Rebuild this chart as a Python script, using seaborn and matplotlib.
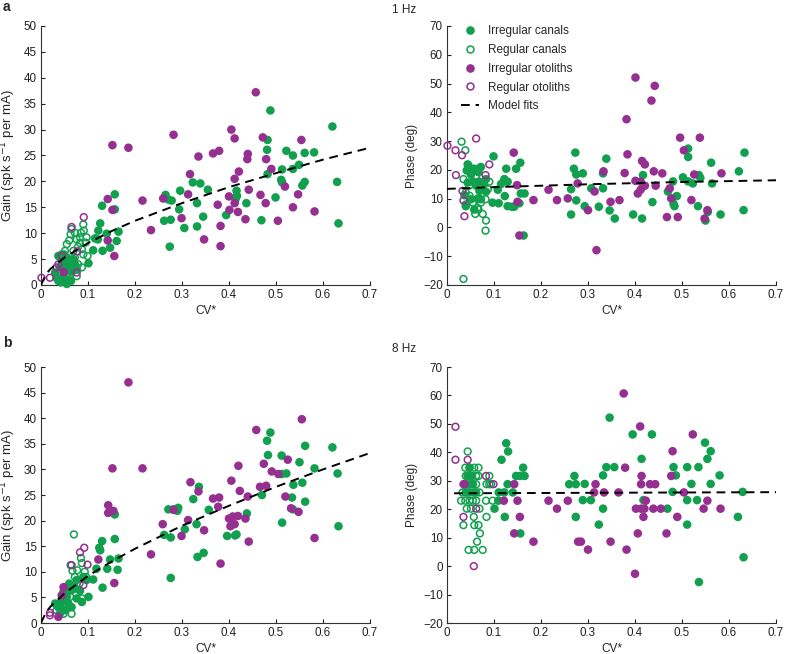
import numpy as np
import pandas as pd
import matplotlib
matplotlib.use("Agg")
import matplotlib.pyplot as plt
import seaborn as sns
from matplotlib.lines import Line2D

# ---------------- data ----------------
# panel a, gain (1 Hz)
g1_irr_can_cv = [0.157, 0.157, 0.130, 0.126, 0.122, 0.140, 0.165, 0.161, 0.147, 0.131, 0.111, 0.115, 0.121, 0.101,
                 0.037, 0.048, 0.058, 0.065, 0.072, 0.069, 0.055, 0.044, 0.033, 0.062, 0.051, 0.040, 0.049, 0.058, 0.030,
                 0.076, 0.042, 0.055, 0.037, 0.046,
                 0.265, 0.271, 0.278, 0.262, 0.276, 0.274, 0.294, 0.296, 0.305, 0.323, 0.339, 0.332, 0.332,
                 0.488, 0.620, 0.482, 0.481, 0.522, 0.536, 0.561, 0.581, 0.549, 0.536, 0.513, 0.482, 0.511, 0.513,
                 0.561, 0.556, 0.630, 0.355, 0.416, 0.417, 0.414, 0.437, 0.499, 0.345, 0.394, 0.469, 0.633]
g1_irr_can = [17.5, 14.6, 15.3, 11.9, 10.5, 9.9, 10.3, 8.5, 7.2, 6.6, 6.7, 9.0, 8.8, 4.2,
              0.8, 2.1, 3.0, 2.7, 4.0, 5.0, 5.3, 4.6, 1.4, 0.8, 1.1, 3.4, 5.9, 4.0, 2.4,
              3.0, 0.5, 0.2, 5.6, 3.4,
              17.4, 16.5, 16.3, 12.4, 12.6, 7.4, 14.6, 18.2, 11.0, 19.8, 19.6, 15.8, 11.3,
              33.7, 30.6, 28.0, 26.1, 25.9, 25.0, 25.5, 25.6, 23.2, 22.4, 22.3, 21.4, 20.3, 19.8,
              19.9, 19.2, 19.9, 18.4, 18.2, 17.2, 16.6, 15.8, 16.9, 13.2, 13.5, 12.5, 11.9]
g1_reg_can_cv = [0.065, 0.063, 0.076, 0.083, 0.069, 0.087, 0.090, 0.099, 0.079, 0.087, 0.065, 0.055, 0.064, 0.076,
                 0.085, 0.090, 0.091, 0.097, 0.095, 0.079, 0.072, 0.058, 0.051, 0.072, 0.060, 0.055, 0.044, 0.083]
g1_reg_can = [10.8, 9.8, 8.8, 8.1, 6.6, 6.9, 5.9, 5.6, 4.0, 3.4, 2.4, 1.1, 0.8, 1.7,
              10.1, 11.7, 10.5, 9.2, 8.2, 7.4, 5.3, 3.4, 6.6, 10.1, 8.6, 7.9, 5.9, 9.2]
g1_irr_oto_cv = [0.152, 0.186, 0.282, 0.216, 0.142, 0.152, 0.234, 0.142, 0.156, 0.260, 0.299, 0.313, 0.317, 0.335,
                 0.457, 0.405, 0.412, 0.472, 0.554, 0.366, 0.379, 0.440, 0.439, 0.479, 0.490, 0.421, 0.412, 0.442,
                 0.400, 0.412, 0.376, 0.467, 0.478, 0.519, 0.547, 0.401, 0.419, 0.435, 0.536, 0.582, 0.504, 0.382,
                 0.347, 0.382, 0.048]
g1_irr_oto = [27.0, 26.5, 29.0, 16.3, 16.6, 14.5, 10.6, 8.6, 5.6, 16.7, 12.9, 17.5, 21.4, 24.8,
              37.2, 30.0, 28.3, 28.5, 28.0, 25.4, 25.9, 25.3, 24.3, 24.3, 22.4, 21.9, 20.5, 18.4,
              17.1, 15.8, 15.5, 17.4, 15.8, 19.0, 17.5, 14.5, 14.1, 12.7, 15.0, 14.2, 12.4, 11.4,
              8.8, 7.5, 2.5]
g1_reg_oto_cv = [0.091, 0.065, 0.001, 0.019, 0.044, 0.037, 0.076, 0.077, 0.033]
g1_reg_oto = [13.1, 11.2, 1.4, 1.4, 5.6, 4.0, 2.4, 6.5, 3.4]

# panel a, phase (1 Hz)
p1_irr_can_cv = [0.099, 0.126, 0.156, 0.147, 0.122, 0.129, 0.115, 0.108, 0.097, 0.110, 0.123, 0.129, 0.138, 0.143,
                 0.157, 0.165, 0.154, 0.163, 0.273, 0.270, 0.275, 0.264, 0.264, 0.275,
                 0.044, 0.042, 0.051, 0.044, 0.055, 0.062, 0.069, 0.069, 0.065, 0.051, 0.040, 0.058, 0.072, 0.072,
                 0.083, 0.079, 0.083, 0.067, 0.058, 0.037,
                 0.513, 0.513, 0.633, 0.562, 0.339, 0.289, 0.332, 0.417, 0.502, 0.536, 0.539, 0.621, 0.481, 0.513,
                 0.523, 0.564, 0.307, 0.332, 0.470, 0.489, 0.482, 0.484, 0.437, 0.293, 0.323, 0.346, 0.357, 0.396,
                 0.415, 0.534, 0.555, 0.550, 0.582, 0.631]
p1_irr_can = [24.7, 20.4, 22.5, 20.4, 16.8, 15.9, 15.1, 13.1, 8.6, 8.4, 10.9, 7.4, 7.2, 7.2,
              11.8, 11.8, 8.4, -2.8, 26.0, 20.4, 18.4, 13.3, 4.5, 9.4,
              21.9, 19.8, 18.4, 15.6, 15.9, 14.5, 15.9, 12.7, 10.0, 9.8, 7.4, 6.2, 9.8, 21.0,
              16.8, 15.1, 12.4, 19.2, 20.4, 11.2,
              27.4, 24.5, 26.0, 22.5, 23.9, 18.8, 18.8, 18.2, 17.4, 18.2, 17.2, 19.5, 16.0, 16.0,
              15.3, 15.3, 13.6, 13.6, 12.5, 10.9, 8.2, 7.4, 8.8, 7.4, 7.2, 5.9, 3.1, 4.5,
              3.1, 7.4, 5.4, 2.4, 4.5, 6.0]
p1_reg_can_cv = [0.035, 0.031, 0.039, 0.035, 0.040, 0.047, 0.046, 0.062, 0.069, 0.065, 0.060, 0.076, 0.072, 0.082,
                 0.087, 0.083, 0.082, 0.067, 0.055, 0.048, 0.090, 0.040]
p1_reg_can = [-17.9, 29.8, 26.8, 16.8, 12.1, 14.5, 21.5, 18.0, 20.6, 6.8, 4.7, 4.7, 8.6, 9.8,
              13.3, 2.4, -1.1, 6.2, 8.6, 11.0, 15.9, 8.0]
p1_irr_oto_cv = [0.142, 0.149, 0.150, 0.154, 0.184, 0.216, 0.234, 0.257, 0.278,
                 0.401, 0.442, 0.435, 0.382, 0.496, 0.538, 0.504, 0.384, 0.415, 0.421, 0.333, 0.378, 0.440, 0.458,
                 0.526, 0.584, 0.401, 0.412, 0.421, 0.444, 0.412, 0.406, 0.314, 0.474, 0.477, 0.348, 0.367, 0.300,
                 0.520, 0.554, 0.548, 0.468, 0.491, 0.318]
p1_irr_oto = [26.0, 14.7, 8.9, -2.8, 9.5, 13.1, 9.5, 10.1, 15.3,
              52.1, 49.2, 44.1, 37.6, 31.2, 31.2, 26.8, 25.4, 23.1, 21.9, 19.5, 18.9, 19.5, 18.8,
              18.4, 18.8, 16.2, 15.9, 14.5, 14.5, 13.1, 11.8, 12.5, 13.6, 10.1, 8.9, 9.5, 6.0,
              9.5, 6.0, 3.1, 3.6, 3.6, -7.9]
p1_reg_oto_cv = [0.001, 0.018, 0.032, 0.062, 0.019, 0.033, 0.035, 0.037, 0.082, 0.090]
p1_reg_oto = [28.4, 26.8, 25.1, 30.9, 18.2, 12.7, 9.4, 3.9, 18.2, 21.9]

# panel b, gain (8 Hz)
g8_irr_can_cv = [0.157, 0.157, 0.130, 0.124, 0.126, 0.147, 0.165, 0.163, 0.141, 0.118, 0.111, 0.101, 0.131,
                 0.271, 0.282, 0.292, 0.290, 0.262, 0.276, 0.276, 0.306, 0.324, 0.336, 0.331, 0.333,
                 0.488, 0.481, 0.562, 0.620, 0.483, 0.512, 0.550, 0.512, 0.522, 0.631, 0.582, 0.537, 0.556, 0.470,
                 0.534, 0.562, 0.357, 0.438, 0.536, 0.513, 0.633, 0.396, 0.416, 0.346, 0.413,
                 0.044, 0.055, 0.065, 0.072, 0.060, 0.048, 0.037, 0.051, 0.076, 0.087, 0.083, 0.076, 0.097, 0.090,
                 0.040, 0.030, 0.058, 0.065, 0.051]
g8_irr_can = [21.2, 16.4, 16.0, 14.7, 14.2, 12.4, 12.6, 10.4, 10.6, 10.6, 8.5, 5.1, 6.9,
              22.2, 22.2, 22.5, 21.9, 17.2, 16.7, 8.8, 18.3, 24.2, 26.6, 19.3, 12.9,
              37.2, 35.6, 34.6, 34.3, 32.8, 32.7, 31.4, 29.1, 29.2, 29.2, 30.2, 27.0, 27.4, 25.0,
              24.5, 23.7, 22.1, 21.4, 22.2, 19.6, 18.9, 17.0, 17.3, 13.7, 17.1,
              4.1, 5.1, 6.4, 7.0, 7.7, 6.1, 3.1, 2.5, 4.8, 4.1, 6.3, 8.4, 8.4, 9.0,
              1.8, 3.8, 3.8, 3.1, 7.0]
g8_reg_can_cv = [0.070, 0.085, 0.087, 0.077, 0.063, 0.072, 0.096, 0.082, 0.058, 0.062, 0.065, 0.055, 0.033,
                 0.048, 0.072, 0.087, 0.050, 0.040, 0.067, 0.093, 0.045]
g8_reg_can = [17.3, 12.7, 11.7, 10.3, 11.3, 9.0, 9.0, 7.7, 7.0, 5.1, 1.8, 3.5, 2.5,
              1.8, 6.7, 4.8, 5.5, 3.8, 10.2, 10.0, 4.6]
g8_irr_oto_cv = [0.186, 0.152, 0.216, 0.143, 0.143, 0.154, 0.122, 0.156, 0.234, 0.259, 0.299, 0.318, 0.335,
                 0.313, 0.282, 0.037, 0.044, 0.048,
                 0.555, 0.458, 0.420, 0.474, 0.525, 0.491, 0.505, 0.405, 0.466, 0.479, 0.423, 0.440, 0.366,
                 0.379, 0.377, 0.520, 0.532, 0.548, 0.400, 0.408, 0.419, 0.435, 0.403, 0.412, 0.347, 0.442,
                 0.582, 0.382]
g8_irr_oto = [47.0, 30.2, 30.2, 23.0, 21.5, 21.9, 12.4, 7.8, 13.4, 19.3, 17.0, 27.5, 25.7,
              20.1, 22.1, 1.2, 5.4, 7.0,
              39.8, 37.7, 30.7, 31.1, 31.9, 29.6, 29.1, 27.8, 26.6, 26.8, 25.8, 24.7, 24.3,
              24.5, 22.7, 24.7, 22.4, 21.7, 20.4, 20.8, 20.9, 20.4, 18.9, 19.3, 18.1, 15.9,
              16.6, 11.6]
g8_reg_oto_cv = [0.092, 0.083, 0.099, 0.090, 0.065, 0.019, 0.019]
g8_reg_oto = [14.7, 13.8, 11.4, 7.4, 11.3, 2.0, 1.5]

# panel b, phase (8 Hz)
p8_irr_can_cv = [0.126, 0.130, 0.116, 0.162, 0.147, 0.155, 0.165, 0.129, 0.110, 0.122, 0.140, 0.109, 0.101,
                 0.123, 0.156, 0.271, 0.260, 0.274, 0.274,
                 0.044, 0.055, 0.039, 0.048, 0.058, 0.048, 0.051, 0.062, 0.053, 0.040,
                 0.346, 0.395, 0.436, 0.549, 0.561, 0.414, 0.554, 0.339, 0.356, 0.482, 0.511, 0.535, 0.332,
                 0.487, 0.580, 0.293, 0.520, 0.561, 0.480, 0.629, 0.289, 0.306, 0.418, 0.511, 0.532, 0.332,
                 0.469, 0.619, 0.323, 0.511, 0.631, 0.536]
p8_irr_can = [43.2, 40.3, 37.4, 34.6, 31.7, 31.7, 31.7, 28.8, 25.9, 25.9, 25.9, 23.0, 20.2,
              17.3, 11.5, 31.7, 28.8, 28.8, 17.3,
              31.7, 28.8, 28.8, 25.9, 25.9, 34.6, 28.8, 25.9, 31.7, 25.9,
              52.2, 46.3, 46.3, 43.4, 40.4, 37.7, 37.7, 34.8, 34.8, 34.8, 34.8, 34.8, 31.9,
              31.9, 31.9, 28.9, 28.9, 28.9, 26.1, 26.1, 23.2, 23.2, 23.2, 23.2, 23.2, 20.2,
              20.2, 17.3, 14.6, 14.6, 3.1, -5.6]
p8_reg_can_cv = [0.044, 0.039, 0.048, 0.058, 0.067, 0.040, 0.051, 0.062, 0.067, 0.044, 0.062, 0.033, 0.044,
                 0.069, 0.030, 0.039, 0.048, 0.062, 0.042, 0.051, 0.069, 0.057, 0.035, 0.058, 0.067, 0.070,
                 0.064, 0.046, 0.058, 0.076, 0.090, 0.084, 0.090, 0.094, 0.083, 0.097, 0.084, 0.055]
p8_reg_can = [40.3, 34.6, 34.6, 34.6, 34.6, 31.7, 31.7, 31.7, 31.7, 28.8, 28.8, 25.9, 25.9,
              25.9, 23.0, 23.0, 23.0, 23.0, 20.2, 20.2, 20.2, 17.3, 14.4, 14.4, 14.4, 11.5,
              8.6, 5.7, 5.7, 5.7, 31.7, 28.8, 28.8, 28.8, 23.0, 23.0, 17.3, 23.0]
p8_irr_oto_cv = [0.037, 0.143, 0.121, 0.150, 0.155, 0.143, 0.184, 0.216, 0.234, 0.257, 0.279,
                 0.376, 0.411, 0.523, 0.480, 0.379, 0.414, 0.477, 0.413, 0.432, 0.443, 0.316, 0.313, 0.334,
                 0.365, 0.504, 0.423, 0.554, 0.402, 0.413, 0.420, 0.439, 0.455, 0.546, 0.582, 0.418, 0.490,
                 0.406, 0.467, 0.285, 0.348, 0.300, 0.382, 0.400]
p8_irr_oto = [28.8, 28.8, 23.0, 23.0, 17.3, 11.5, 8.6, 23.0, 20.2, 23.0, 8.6,
              60.7, 49.1, 46.3, 40.4, 34.6, 31.7, 31.7, 28.8, 28.8, 28.8, 28.8, 25.9, 25.9,
              25.9, 25.9, 23.0, 23.0, 20.2, 20.2, 20.2, 20.2, 20.2, 20.2, 20.2, 17.3, 17.3,
              11.5, 11.5, 8.6, 8.6, 5.8, 5.8, -2.7]
p8_reg_oto_cv = [0.018, 0.018, 0.044, 0.035, 0.035, 0.057, 0.083, 0.099, 0.062]
p8_reg_oto = [49.0, 37.4, 37.4, 28.8, 17.3, 0.0, 31.7, 28.8, 20.2]

# model fits (sampled off the dashed curves)
fit_g1_cv = [0, 0.01, 0.02, 0.05, 0.1, 0.15, 0.2, 0.3, 0.4, 0.5, 0.6, 0.7]
fit_g1 = [0, 2.0, 3.1, 5.3, 8.1, 10.4, 12.4, 15.8, 18.9, 21.6, 24.2, 26.5]
fit_p1_cv = [0, 0.1, 0.2, 0.3, 0.4, 0.5, 0.6, 0.7]
fit_p1 = [13.4, 14.0, 14.5, 15.0, 15.4, 15.8, 16.1, 16.4]
fit_g8_cv = [0, 0.01, 0.02, 0.05, 0.1, 0.15, 0.2, 0.3, 0.4, 0.5, 0.6, 0.7]
fit_g8 = [0, 2.0, 3.2, 5.8, 9.2, 12.0, 14.5, 19.0, 22.9, 26.6, 30.0, 33.2]
fit_p8_cv = [0.015, 0.7]
fit_p8 = [25.6, 26.0]

xticks = [0, 0.1, 0.2, 0.3, 0.4, 0.5, 0.6, 0.7]
xticklabels = ["0", "0.1", "0.2", "0.3", "0.4", "0.5", "0.6", "0.7"]

# ---------------- style ----------------
sns.set_style("ticks")
plt.rcParams['font.family'] = ['Liberation Sans', 'DejaVu Sans']
plt.rcParams['font.size'] = 8.5

green = "#11a04e"
purple = "#952f90"
fill_s = 38
open_s = 24


def draw_group(ax, cv, val, color, filled):
    if filled:
        sns.scatterplot(x=cv, y=val, ax=ax, color=color, s=fill_s, edgecolor="none",
                        linewidth=0, clip_on=False, zorder=3)
    else:
        sns.scatterplot(x=cv, y=val, ax=ax, color=color, s=open_s, facecolors="none",
                        edgecolor=color, linewidth=1.1, clip_on=False, zorder=3)


def style_axes(ax, ylim, yticks, ylabel, ysize):
    ax.set_xlim(0, 0.7)
    ax.set_ylim(*ylim)
    ax.set_xticks(xticks)
    ax.set_xticklabels(xticklabels)
    ax.set_yticks(yticks)
    ax.set_xlabel("CV*", fontsize=8.5, labelpad=3)
    ax.set_ylabel(ylabel, fontsize=ysize, labelpad=4)
    ax.tick_params(direction="in", length=3, width=0.8, labelsize=8.4, pad=3, colors="#222222")
    for side in ["top", "right"]:
        ax.spines[side].set_visible(False)
    for side in ["left", "bottom"]:
        ax.spines[side].set_linewidth(0.8)
        ax.spines[side].set_color("#333333")


def fit_line(ax, cv, val):
    sns.lineplot(x=cv, y=val, ax=ax, color="black", linewidth=1.4, linestyle=(0, (4.5, 3)),
                 sort=False, estimator=None, zorder=4)


fig = plt.figure(figsize=(7.85, 6.54), dpi=100)
W, H = 785, 654
axw = 329 / W
ax_g1 = fig.add_axes([41 / W, 1 - 285 / H, axw, 259 / H])
ax_p1 = fig.add_axes([447 / W, 1 - 285 / H, axw, 259 / H])
ax_g8 = fig.add_axes([41 / W, 1 - 623 / H, axw, 256 / H])
ax_p8 = fig.add_axes([447 / W, 1 - 623 / H, axw, 256 / H])

panels = [
    (ax_g1, [(g1_irr_can_cv, g1_irr_can, green, True), (g1_reg_can_cv, g1_reg_can, green, False),
             (g1_irr_oto_cv, g1_irr_oto, purple, True), (g1_reg_oto_cv, g1_reg_oto, purple, False)],
     (fit_g1_cv, fit_g1)),
    (ax_p1, [(p1_irr_can_cv, p1_irr_can, green, True), (p1_reg_can_cv, p1_reg_can, green, False),
             (p1_irr_oto_cv, p1_irr_oto, purple, True), (p1_reg_oto_cv, p1_reg_oto, purple, False)],
     (fit_p1_cv, fit_p1)),
    (ax_g8, [(g8_irr_can_cv, g8_irr_can, green, True), (g8_reg_can_cv, g8_reg_can, green, False),
             (g8_irr_oto_cv, g8_irr_oto, purple, True), (g8_reg_oto_cv, g8_reg_oto, purple, False)],
     (fit_g8_cv, fit_g8)),
    (ax_p8, [(p8_irr_can_cv, p8_irr_can, green, True), (p8_reg_can_cv, p8_reg_can, green, False),
             (p8_irr_oto_cv, p8_irr_oto, purple, True), (p8_reg_oto_cv, p8_reg_oto, purple, False)],
     (fit_p8_cv, fit_p8)),
]
for ax, groups, fit in panels:
    for cv, val, col, filled in groups:
        draw_group(ax, cv, val, col, filled)
    fit_line(ax, *fit)

gain_label = "Gain (spk s$^{-1}$ per mA)"
style_axes(ax_g1, (0, 50), range(0, 51, 5), gain_label, 9.5)
style_axes(ax_g8, (0, 50), range(0, 51, 5), gain_label, 9.5)
style_axes(ax_p1, (-20, 70), range(-20, 71, 10), "Phase (deg)", 8.5)
style_axes(ax_p8, (-20, 70), range(-20, 71, 10), "Phase (deg)", 8.5)

# legend
handles = [
    Line2D([], [], marker="o", linestyle="none", markersize=6.2, color=green, markeredgewidth=0),
    Line2D([], [], marker="o", linestyle="none", markersize=5.0, markerfacecolor="none",
           markeredgecolor=green, markeredgewidth=1.1),
    Line2D([], [], marker="o", linestyle="none", markersize=6.2, color=purple, markeredgewidth=0),
    Line2D([], [], marker="o", linestyle="none", markersize=5.0, markerfacecolor="none",
           markeredgecolor=purple, markeredgewidth=1.1),
    Line2D([], [], color="black", linewidth=1.4, linestyle=(0, (4.5, 3))),
]
labels = ["Irregular canals", "Regular canals", "Irregular otoliths", "Regular otoliths", "Model fits"]
ax_p1.legend(handles, labels, loc="upper left", bbox_to_anchor=(0.027, 1.022), frameon=False,
             fontsize=8.5, handlelength=1.6, handletextpad=0.7, labelspacing=0.58, borderaxespad=0)

fig.text(3 / W, 1 - 0 / H, "a", fontsize=10, fontweight="bold", va="top", ha="left")
fig.text(3 / W, 1 - 336 / H, "b", fontsize=10, fontweight="bold", va="top", ha="left")
fig.text(392 / W, 1 - 10 / H, "1 Hz", fontsize=8.5, va="center", ha="left")
fig.text(392 / W, 1 - 349 / H, "8 Hz", fontsize=8.5, va="center", ha="left")

fig.savefig("out.png", dpi=100)
